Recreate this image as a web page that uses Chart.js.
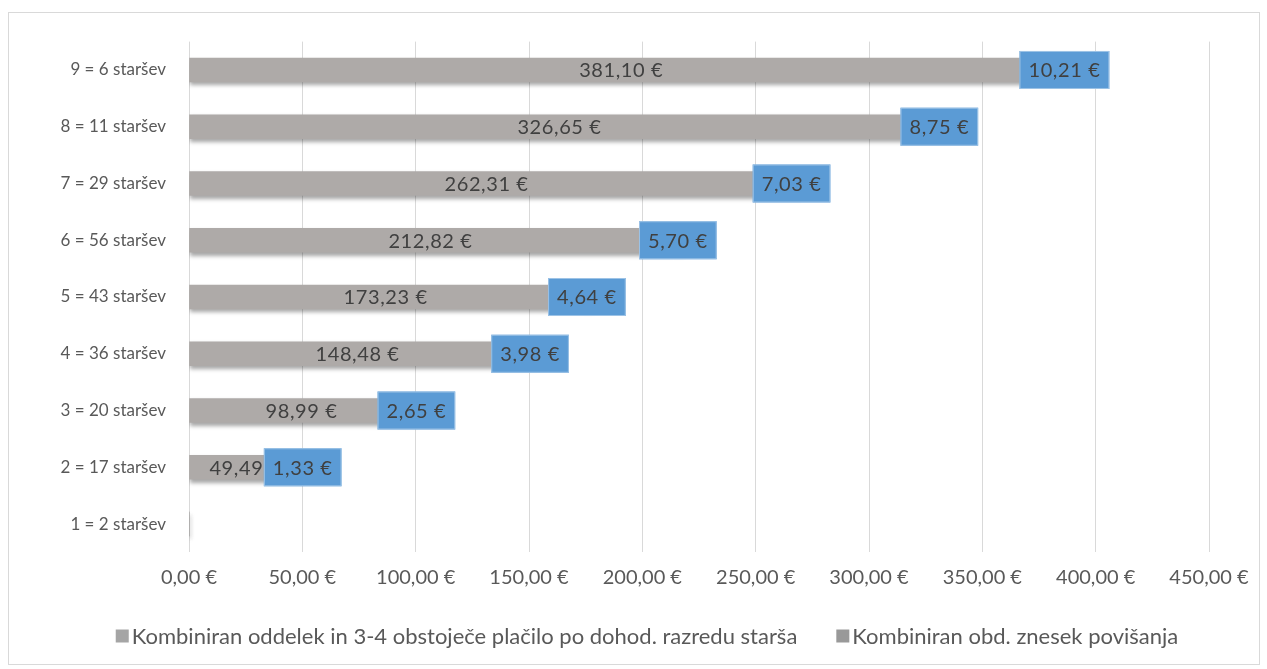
<!DOCTYPE html>
<html>
<head>
<meta charset="utf-8">
<script src="https://cdn.jsdelivr.net/npm/chart.js@4"></script>
<style>
  html, body { margin: 0; padding: 0; background: #fff; }
  #frame {
    position: absolute; left: 8px; top: 12px;
    width: 1250px; height: 651px;
    border: 1px solid #d9d9d9;
  }
</style>
</head>
<body>
<div id="frame"><canvas id="chart" width="1250" height="651"></canvas></div>
<script>
// categories, top to bottom as in the picture
const categories = [
  "9 = 6 staršev", "8 = 11 staršev", "7 = 29 staršev", "6 = 56 staršev",
  "5 = 43 staršev", "4 = 36 staršev", "3 = 20 staršev", "2 = 17 staršev", "1 = 2 staršev"
];
const existingPayment = [381.10, 326.65, 262.31, 212.82, 173.23, 148.48, 98.99, 49.49, 0];
const increaseAmount = [10.21, 8.75, 7.03, 5.70, 4.64, 3.98, 2.65, 1.33, 0];
const seriesNames = [
  "Kombiniran oddelek in 3-4 obstoječe plačilo po dohod. razredu starša",
  "Kombiniran obd. znesek povišanja"
];
const legendColors = ['#a5a5a5', '#999999'];
const xMax = 450;
const xStep = 50;

const FONT = "Lato, 'Open Sans', sans-serif";

function euro(v) {
  return v.toFixed(2).replace('.', ',') + ' €';
}

// soft shadow under the bars, like the office chart
const shadowPlugin = {
  id: 'barShadow',
  beforeDatasetDraw(chart, args) {
    const ctx = chart.ctx;
    ctx.save();
    ctx.shadowColor = 'rgba(0,0,0,0.35)';
    ctx.shadowBlur = 4;
    ctx.shadowOffsetX = 1;
    ctx.shadowOffsetY = 3;
  },
  afterDatasetDraw(chart, args) {
    chart.ctx.restore();
  }
};

// value labels: plain text centred on grey bars, blue boxes on the increase
const labelPlugin = {
  id: 'valueLabels',
  afterDatasetsDraw(chart) {
    const ctx = chart.ctx;
    ctx.save();
    ctx.font = '20px ' + FONT;
    ctx.letterSpacing = '0.6px';
    ctx.textAlign = 'center';
    ctx.textBaseline = 'middle';

    const m0 = chart.getDatasetMeta(0);
    m0.data.forEach((bar, i) => {
      const v = existingPayment[i];
      if (!v) return;
      ctx.fillStyle = '#404040';
      ctx.fillText(euro(v), (bar.x + bar.base) / 2, bar.y + 1);
    });

    const m1 = chart.getDatasetMeta(1);
    m1.data.forEach((bar, i) => {
      const v = increaseAmount[i];
      if (!v) return;
      const txt = euro(v);
      const w = ctx.measureText(txt).width + 18;
      const h = 38;
      const cx = (bar.x + bar.base) / 2;
      ctx.fillStyle = '#5b9bd5';
      ctx.fillRect(cx - w / 2, bar.y - h / 2, w, h);
      ctx.strokeStyle = '#9dc3e6';
      ctx.lineWidth = 1;
      ctx.strokeRect(cx - w / 2 + 0.5, bar.y - h / 2 + 0.5, w - 1, h - 1);
      ctx.fillStyle = '#404040';
      ctx.fillText(txt, cx, bar.y + 1);
    });
    ctx.restore();
  }
};

// legend drawn by hand so spacing matches the office one
const legendPlugin = {
  id: 'bottomLegend',
  afterDraw(chart) {
    const ctx = chart.ctx;
    ctx.save();
    ctx.font = '22px ' + FONT;
    ctx.textBaseline = 'middle';
    ctx.textAlign = 'left';
    const box = 13, gap = 3, itemGap = 39;
    const widths = seriesNames.map(n => ctx.measureText(n).width);
    const total = widths.reduce((a, w) => a + box + gap + w, 0) + itemGap * (seriesNames.length - 1);
    let x = 638 - total / 2;
    const y = 623;
    seriesNames.forEach((n, i) => {
      ctx.fillStyle = legendColors[i];
      ctx.fillRect(x, y - box / 2, box, box);
      x += box + gap;
      ctx.fillStyle = '#595959';
      ctx.fillText(n, x, y + 1);
      x += widths[i] + itemGap;
    });
    ctx.restore();
  }
};

new Chart(document.getElementById('chart'), {
  type: 'bar',
  data: {
    labels: categories,
    datasets: [
      {
        label: seriesNames[0],
        data: existingPayment,
        backgroundColor: '#aeaaa8',
        barThickness: 24,
      },
      {
        label: seriesNames[1],
        data: increaseAmount,
        backgroundColor: '#8f8f8f',
        barThickness: 24,
      }
    ]
  },
  options: {
    indexAxis: 'y',
    responsive: false,
    animation: false,
    layout: { padding: { top: 28.6, right: 50, left: 0, bottom: 71.6 } },
    plugins: {
      legend: { display: false },
      tooltip: { enabled: false }
    },
    scales: {
      x: {
        stacked: true,
        min: 0,
        max: xMax,
        ticks: {
          stepSize: xStep,
          color: '#595959',
          font: { family: FONT, size: 20 },
          padding: 13,
          maxRotation: 0,
          callback: (v) => euro(v)
        },
        grid: { color: '#d9d9d9', drawTicks: false, lineWidth: 1 },
        border: { display: false },
        afterFit(scale) {
          scale.height = 40;
          scale.paddingLeft = 0;
          scale.paddingRight = 0;
        }
      },
      y: {
        stacked: true,
        ticks: {
          color: '#595959',
          font: { family: FONT, size: 17 },
          padding: 23
        },
        grid: { display: false, drawTicks: false },
        border: { display: false },
        afterFit(scale) {
          scale.width = 180;
          scale.paddingTop = 0;
          scale.paddingBottom = 0;
        }
      }
    }
  },
  plugins: [shadowPlugin, labelPlugin, legendPlugin]
});
</script>
</body>
</html>
